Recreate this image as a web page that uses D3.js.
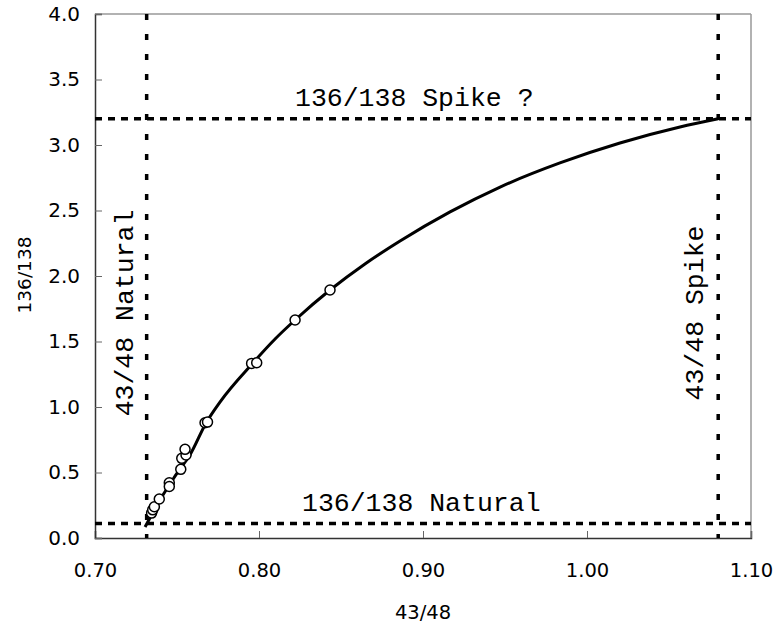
<!DOCTYPE html>
<html>
<head>
<meta charset="utf-8">
<script src="https://d3js.org/d3.v7.min.js"></script>
<style>
    body { margin: 0; background: #fff; }
    .ref_label { font-family: "Liberation Mono", "Courier New", monospace; font-size: 26.5px; fill: #000; }
</style>
</head>
<body>
<div id="chart"></div>
<script>

// measured samples (43/48 vs 136/138)
let ratio4348 = [0.7345, 0.7352, 0.7362, 0.7392, 0.7453, 0.7453, 0.7523, 0.7529, 0.7555, 0.7549,
    0.7671, 0.7686, 0.7955, 0.7986, 0.8220, 0.8433];
let ratio136138 = [0.190, 0.215, 0.239, 0.298, 0.422, 0.393, 0.524, 0.608, 0.634, 0.677,
    0.880, 0.885, 1.333, 1.338, 1.664, 1.893];

// mixing curve
let curveX = [0.7305, 0.7348, 0.7396, 0.7457, 0.7518, 0.7579, 0.7677, 0.7762, 0.7963, 0.8098,
    0.8220, 0.8433, 0.8646, 0.8860, 0.9165, 0.9470, 0.9835, 1.0201, 1.0567, 1.0800];
let curveY = [0.084, 0.183, 0.290, 0.412, 0.527, 0.634, 0.878, 1.038, 1.336, 1.519,
    1.664, 1.893, 2.092, 2.267, 2.489, 2.679, 2.863, 3.015, 3.137, 3.200];

// end members
let naturalX = 0.7315, spikeX = 1.08;
let naturalY = 0.11, spikeY = 3.2;

let xTicks = [0.70, 0.80, 0.90, 1.00, 1.10];
let yTicks = [0.0, 0.5, 1.0, 1.5, 2.0, 2.5, 3.0, 3.5, 4.0];

let margin = {top: 14, right: 27, bottom: 93, left: 95};
let width = 778 - margin.left - margin.right;
let height = 631 - margin.top - margin.bottom;
let sansFont = "'DejaVu Sans', Verdana, sans-serif";

let svg = d3.select("#chart")
    .append("svg")
    .attr("width", 778)
    .attr("height", 631)
    .append("g")
    .attr("transform", `translate(${margin.left},${margin.top})`);

let xScale = d3.scaleLinear().domain([0.70, 1.10]).range([0, width]);
let yScale = d3.scaleLinear().domain([0, 4]).range([height, 0]);

// frame: top/right lighter
svg.append("line").attr("x1", 0).attr("x2", width).attr("y1", 0).attr("y2", 0)
    .attr("stroke", "#999").attr("stroke-width", 1.5);
svg.append("line").attr("x1", width).attr("x2", width).attr("y1", 0).attr("y2", height)
    .attr("stroke", "#999").attr("stroke-width", 1.5);

let xAxis = d3.axisBottom(xScale)
    .tickValues(xTicks)
    .tickFormat(d3.format(".2f"))
    .tickSize(-7)
    .tickPadding(25);

let yAxis = d3.axisLeft(yScale)
    .tickValues(yTicks)
    .tickFormat(d3.format(".1f"))
    .tickSize(-7)
    .tickPadding(15);

svg.append("g")
    .attr("class", "x-axis axis")
    .attr("transform", `translate(0,${height})`)
    .call(xAxis)
    .call(g => g.select(".domain").attr("stroke", "#333").attr("stroke-width", 1.5))
    .call(g => g.selectAll(".tick line").attr("stroke", "#666"))
    .call(g => g.selectAll(".tick text")
        .style("font-family", sansFont).style("font-size", "19.5px").style("fill", "#000"));

svg.append("g")
    .attr("class", "y-axis axis")
    .call(yAxis)
    .call(g => g.select(".domain").attr("stroke", "#333").attr("stroke-width", 1.5))
    .call(g => g.selectAll(".tick line").attr("stroke", "#666"))
    .call(g => g.selectAll(".tick text")
        .style("font-family", sansFont).style("font-size", "20px").style("fill", "#000"));

// reference lines
svg.append("line")
    .attr("x1", 0).attr("x2", width)
    .attr("y1", yScale(spikeY)).attr("y2", yScale(spikeY))
    .attr("stroke", "#000").attr("stroke-width", 3.5).attr("stroke-dasharray", "7,6");
svg.append("line")
    .attr("x1", 0).attr("x2", width)
    .attr("y1", yScale(naturalY)).attr("y2", yScale(naturalY))
    .attr("stroke", "#000").attr("stroke-width", 3.5).attr("stroke-dasharray", "7,6");
svg.append("line")
    .attr("x1", xScale(naturalX)).attr("x2", xScale(naturalX))
    .attr("y1", 0).attr("y2", height)
    .attr("stroke", "#000").attr("stroke-width", 3.5).attr("stroke-dasharray", "6,14");
svg.append("line")
    .attr("x1", xScale(spikeX)).attr("x2", xScale(spikeX))
    .attr("y1", 0).attr("y2", height)
    .attr("stroke", "#000").attr("stroke-width", 3.5).attr("stroke-dasharray", "6,14");

// mixing curve
let line = d3.line()
    .x((d, i) => xScale(curveX[i]))
    .y(d => yScale(d))
    .curve(d3.curveMonotoneX);

svg.append("path")
    .datum(curveY)
    .attr("d", line)
    .attr("fill", "none")
    .attr("stroke", "#000")
    .attr("stroke-width", 3);

svg.selectAll(".mycircle")
    .data(ratio136138)
    .enter()
    .append("circle")
    .attr("class", "mycircle")
    .attr("cx", (d, i) => xScale(ratio4348[i]))
    .attr("cy", d => yScale(d))
    .attr("r", 5)
    .attr("fill", "#fff")
    .attr("stroke", "#000")
    .attr("stroke-width", 1.5);

// labels on reference lines
svg.append("text")
    .attr("class", "ref_label")
    .attr("x", 200).attr("y", yScale(spikeY) - 13)
    .text("136/138 Spike ?");
svg.append("text")
    .attr("class", "ref_label")
    .attr("x", 207).attr("y", yScale(naturalY) - 13)
    .text("136/138 Natural");
svg.append("text")
    .attr("class", "ref_label")
    .attr("text-anchor", "middle")
    .attr("transform", `translate(${xScale(naturalX) - 14},${299}) rotate(-90)`)
    .text("43/48 Natural");
svg.append("text")
    .attr("class", "ref_label")
    .attr("text-anchor", "middle")
    .attr("transform", `translate(${xScale(spikeX) - 15},${299}) rotate(-90)`)
    .text("43/48 Spike");

// axis titles
svg.append("text")
    .attr("text-anchor", "middle")
    .style("font-family", sansFont)
    .style("font-size", "19.5px")
    .attr("x", width / 2).attr("y", height + 81)
    .text("43/48");
svg.append("text")
    .attr("text-anchor", "middle")
    .style("font-family", sansFont)
    .style("font-size", "18.5px")
    .attr("transform", `translate(${-64},${261}) rotate(-90)`)
    .text("136/138");

</script>
</body>
</html>
